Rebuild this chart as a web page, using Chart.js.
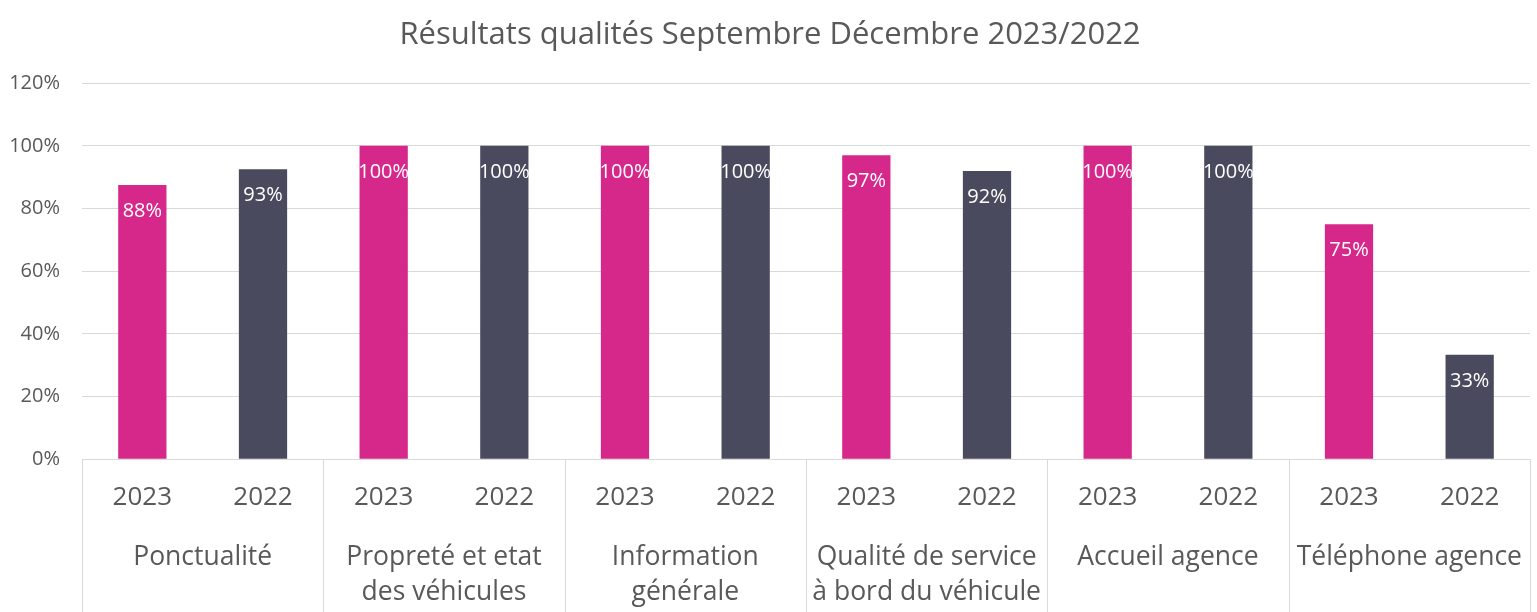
<!DOCTYPE html>
<html>
<head>
<meta charset="utf-8">
<script src="https://cdn.jsdelivr.net/npm/chart.js@4/dist/chart.umd.min.js"></script>
<style>
  html, body { margin: 0; padding: 0; background: #fff; }
  #wrap { width: 1537px; height: 612px; }
</style>
</head>
<body>
<div id="wrap"><canvas id="chart"></canvas></div>
<script>
// ── DATA ─────────────────────────────────────────────
const years = ['2023', '2022'];
const groups = ['Ponctualité', ['Propreté et etat', 'des véhicules'], ['Information', 'générale'],
  ['Qualité de service', 'à bord du véhicule'], 'Accueil agence', 'Téléphone agence'];
const values = [87.5, 92.5, 100, 100, 100, 100, 97, 92, 100, 100, 75, 33.3];
const yTicks = [0, 20, 40, 60, 80, 100, 120];

const pink = '#d6288a';
const slate = '#4a4a5e';
const txt = '#595959';
const gridCol = '#d9d9d9';
const font = 'Open Sans';

const labels = [];
groups.forEach(() => years.forEach(y => labels.push(y)));
const colors = labels.map((l, i) => i % 2 === 0 ? pink : slate);

// separators under the x axis, between the groups
const separators = {
  id: 'separators',
  afterDraw(chart) {
    const x = chart.scales.x, ctx = chart.ctx;
    const top = chart.chartArea.bottom, bottom = chart.height;
    const half = (x.getPixelForValue(1) - x.getPixelForValue(0)) / 2;
    ctx.save();
    ctx.strokeStyle = gridCol;
    ctx.lineWidth = 1;
    for (let g = 0; g <= groups.length; g++) {
      const px = Math.round(x.getPixelForValue(g * 2) - half) + 0.5;
      ctx.beginPath();
      ctx.moveTo(px, top);
      ctx.lineTo(px, bottom);
      ctx.stroke();
    }
    ctx.restore();
  }
};

// value labels inside the top of each bar
const barLabels = {
  id: 'barLabels',
  afterDatasetsDraw(chart) {
    const ctx = chart.ctx;
    const meta = chart.getDatasetMeta(0);
    ctx.save();
    ctx.fillStyle = '#ffffff';
    ctx.font = `20px "${font}"`;
    ctx.textAlign = 'center';
    ctx.textBaseline = 'middle';
    meta.data.forEach((bar, i) => {
      ctx.fillText(Math.round(values[i]) + '%', bar.x, bar.y + 26);
    });
    ctx.restore();
  }
};

new Chart(document.getElementById('chart'), {
  type: 'bar',
  data: {
    labels: labels,
    datasets: [{
      data: values,
      backgroundColor: colors,
      categoryPercentage: 1,
      barPercentage: 0.4,
    }]
  },
  options: {
    responsive: true,
    maintainAspectRatio: false,
    animation: false,
    layout: { padding: { left: 10, right: 7, top: 0, bottom: 0 } },
    plugins: {
      legend: { display: false },
      tooltip: { enabled: false },
      title: {
        display: true,
        text: 'Résultats qualités Septembre Décembre 2023/2022',
        color: txt,
        font: { family: font, size: 31, weight: 'normal' },
        padding: { top: 17, bottom: 29 }
      }
    },
    scales: {
      y: {
        min: 0, max: 120,
        afterBuildTicks: s => { s.ticks = yTicks.map(v => ({ value: v })); },
        afterFit: s => { s.width = 72; },
        border: { display: false },
        grid: { color: gridCol, drawTicks: false },
        ticks: {
          color: txt,
          padding: 22,
          font: { family: font, size: 20 },
          callback: v => v + '%'
        }
      },
      x: {
        border: { display: false },
        grid: { display: false, drawTicks: false },
        ticks: {
          color: txt,
          padding: 24,
          maxRotation: 0,
          font: { family: font, size: 26, lineHeight: 1.15 }
        }
      },
      x2: {
        type: 'category',
        labels: groups,
        position: 'bottom',
        border: { display: false },
        grid: { display: false, drawTicks: false },
        ticks: {
          color: txt,
          padding: 2.5,
          maxRotation: 0,
          autoSkip: false,
          font: { family: font, size: 26.5, lineHeight: 1.32 }
        }
      }
    }
  },
  plugins: [separators, barLabels]
});
</script>
</body>
</html>
